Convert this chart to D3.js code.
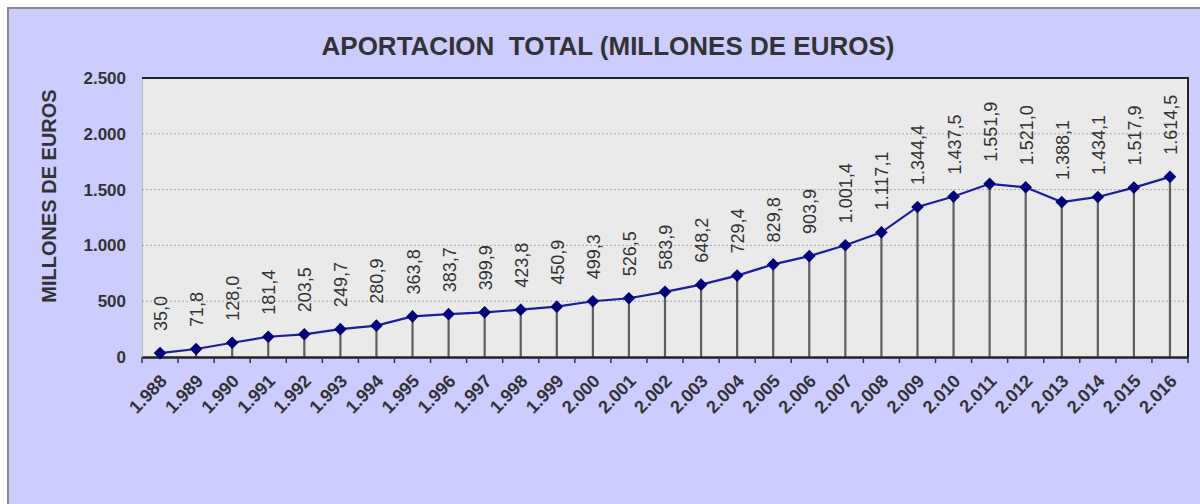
<!DOCTYPE html>
<html>
<head>
<meta charset="utf-8">
<script src="https://cdn.jsdelivr.net/npm/d3@7"></script>
<style>
  body { margin: 0; background: #ffffff; }
  svg { display: block; font-family: "Liberation Sans", Arial, sans-serif; }
</style>
</head>
<body>
<svg width="1200" height="504"></svg>
<script>
// data
var years = [1988, 1989, 1990, 1991, 1992, 1993, 1994, 1995, 1996, 1997,
             1998, 1999, 2000, 2001, 2002, 2003, 2004, 2005, 2006, 2007,
             2008, 2009, 2010, 2011, 2012, 2013, 2014, 2015, 2016];
var aportacion = [35.0, 71.8, 128.0, 181.4, 203.5, 249.7, 280.9, 363.8, 383.7, 399.9,
                  423.8, 450.9, 499.3, 526.5, 583.9, 648.2, 729.4, 829.8, 903.9, 1001.4,
                  1117.1, 1344.4, 1437.5, 1551.9, 1521.0, 1388.1, 1434.1, 1517.9, 1614.5];
var yTicks = [0, 500, 1000, 1500, 2000, 2500];
var title = "APORTACION  TOTAL (MILLONES DE EUROS)";
var yTitle = "MILLONES DE EUROS";

var es = d3.formatLocale({ decimal: ",", thousands: ".", grouping: [3], currency: ["", " €"] });
var fmtVal = es.format(",.1f");
var fmtInt = es.format(",d");

var margin = { top: 78, right: 12, bottom: 147, left: 142 };
var width = 1200 - margin.left - margin.right;
var height = 504 - margin.top - margin.bottom;

var svg = d3.select("svg");

// outer panel
svg.append("rect")
    .attr("x", 8).attr("y", 8)
    .attr("width", 1200).attr("height", 504)
    .attr("fill", "#ccccff")
    .attr("stroke", "#8a8a8a")
    .attr("stroke-width", 2);

svg.append("text")
    .attr("x", 608).attr("y", 55)
    .attr("text-anchor", "middle")
    .attr("font-size", 26).attr("font-weight", "bold")
    .attr("fill", "#333333")
    .style("white-space", "pre")
    .text(title);

var g = svg.append("g")
    .attr("transform", "translate(" + margin.left + "," + margin.top + ")");

var x = d3.scaleBand().domain(years).range([0, width]);
var y = d3.scaleLinear().domain([0, 2500]).range([height, 0]);
var cx = function (d) { return x(d) + x.bandwidth() / 2; };

g.append("rect")
    .attr("width", width).attr("height", height)
    .attr("fill", "#eaeaea");

// gridlines
g.append("g")
    .selectAll("line")
    .data(yTicks.slice(1))
    .enter().append("line")
    .attr("x1", 0).attr("x2", width)
    .attr("y1", function (d) { return y(d); })
    .attr("y2", function (d) { return y(d); })
    .attr("stroke", "#a8a8a8")
    .attr("stroke-dasharray", "2,2");

// y axis
var yAxis = g.append("g")
    .call(d3.axisLeft(y).tickValues(yTicks).tickFormat(fmtInt).tickSize(0).tickPadding(16));
yAxis.select(".domain").attr("stroke", "#888888").attr("stroke-dasharray", "1,1");
yAxis.selectAll("text")
    .attr("font-size", 17).attr("font-weight", "bold")
    .attr("fill", "#333333")
    .attr("font-family", "Liberation Sans, Arial, sans-serif");

svg.append("text")
    .attr("transform", "translate(56,196) rotate(-90)")
    .attr("text-anchor", "middle")
    .attr("font-size", 20).attr("font-weight", "bold")
    .attr("fill", "#333333")
    .text(yTitle);

// drop lines
var pts = years.map(function (yr, i) { return { year: yr, value: aportacion[i] }; });
g.append("g")
    .selectAll("line")
    .data(pts)
    .enter().append("line")
    .attr("x1", function (d) { return cx(d.year); })
    .attr("x2", function (d) { return cx(d.year); })
    .attr("y1", function (d) { return y(d.value); })
    .attr("y2", height)
    .attr("stroke", "#5e5e5e")
    .attr("stroke-width", 2.2);

// frame
g.append("path")
    .attr("d", "M0,0H" + width + "V" + height)
    .attr("fill", "none")
    .attr("stroke", "#222222")
    .attr("stroke-width", 2);

// x axis
var xAxis = g.append("g")
    .attr("transform", "translate(0," + height + ")")
    .call(d3.axisBottom(x).tickFormat(fmtInt).tickSize(0));
xAxis.select(".domain").attr("stroke", "#222222").attr("stroke-width", 2.5);
xAxis.selectAll(".tick text")
    .attr("font-size", 18).attr("font-weight", "bold")
    .attr("fill", "#333333")
    .attr("font-family", "Liberation Sans, Arial, sans-serif")
    .attr("text-anchor", "end")
    .attr("dy", null)
    .attr("y", 0)
    .attr("transform", "translate(8,25) rotate(-46)");
xAxis.append("g")
    .selectAll("line")
    .data(years.concat(["end"]))
    .enter().append("line")
    .attr("x1", function (d, i) { return i * x.step(); })
    .attr("x2", function (d, i) { return i * x.step(); })
    .attr("y1", 0).attr("y2", 6)
    .attr("stroke", "#333333")
    .attr("stroke-width", 1.5);

// line and markers
var line = d3.line()
    .x(function (d) { return cx(d.year); })
    .y(function (d) { return y(d.value); });
g.append("path")
    .datum(pts)
    .attr("d", line)
    .attr("fill", "none")
    .attr("stroke", "#1c1ca0")
    .attr("stroke-width", 2.2);

g.append("g")
    .selectAll("path")
    .data(pts)
    .enter().append("path")
    .attr("d", d3.symbol(d3.symbolSquare, 80))
    .attr("transform", function (d) {
        return "translate(" + cx(d.year) + "," + y(d.value) + ") rotate(45)";
    })
    .attr("fill", "#00007a");

// value labels
g.append("g")
    .selectAll("text")
    .data(pts)
    .enter().append("text")
    .attr("transform", function (d) {
        return "translate(" + (cx(d.year) + 7) + "," + (y(d.value) - 22) + ") rotate(-90)";
    })
    .attr("font-size", 18)
    .attr("fill", "#333333")
    .text(function (d) { return fmtVal(d.value); });
</script>
</body>
</html>
